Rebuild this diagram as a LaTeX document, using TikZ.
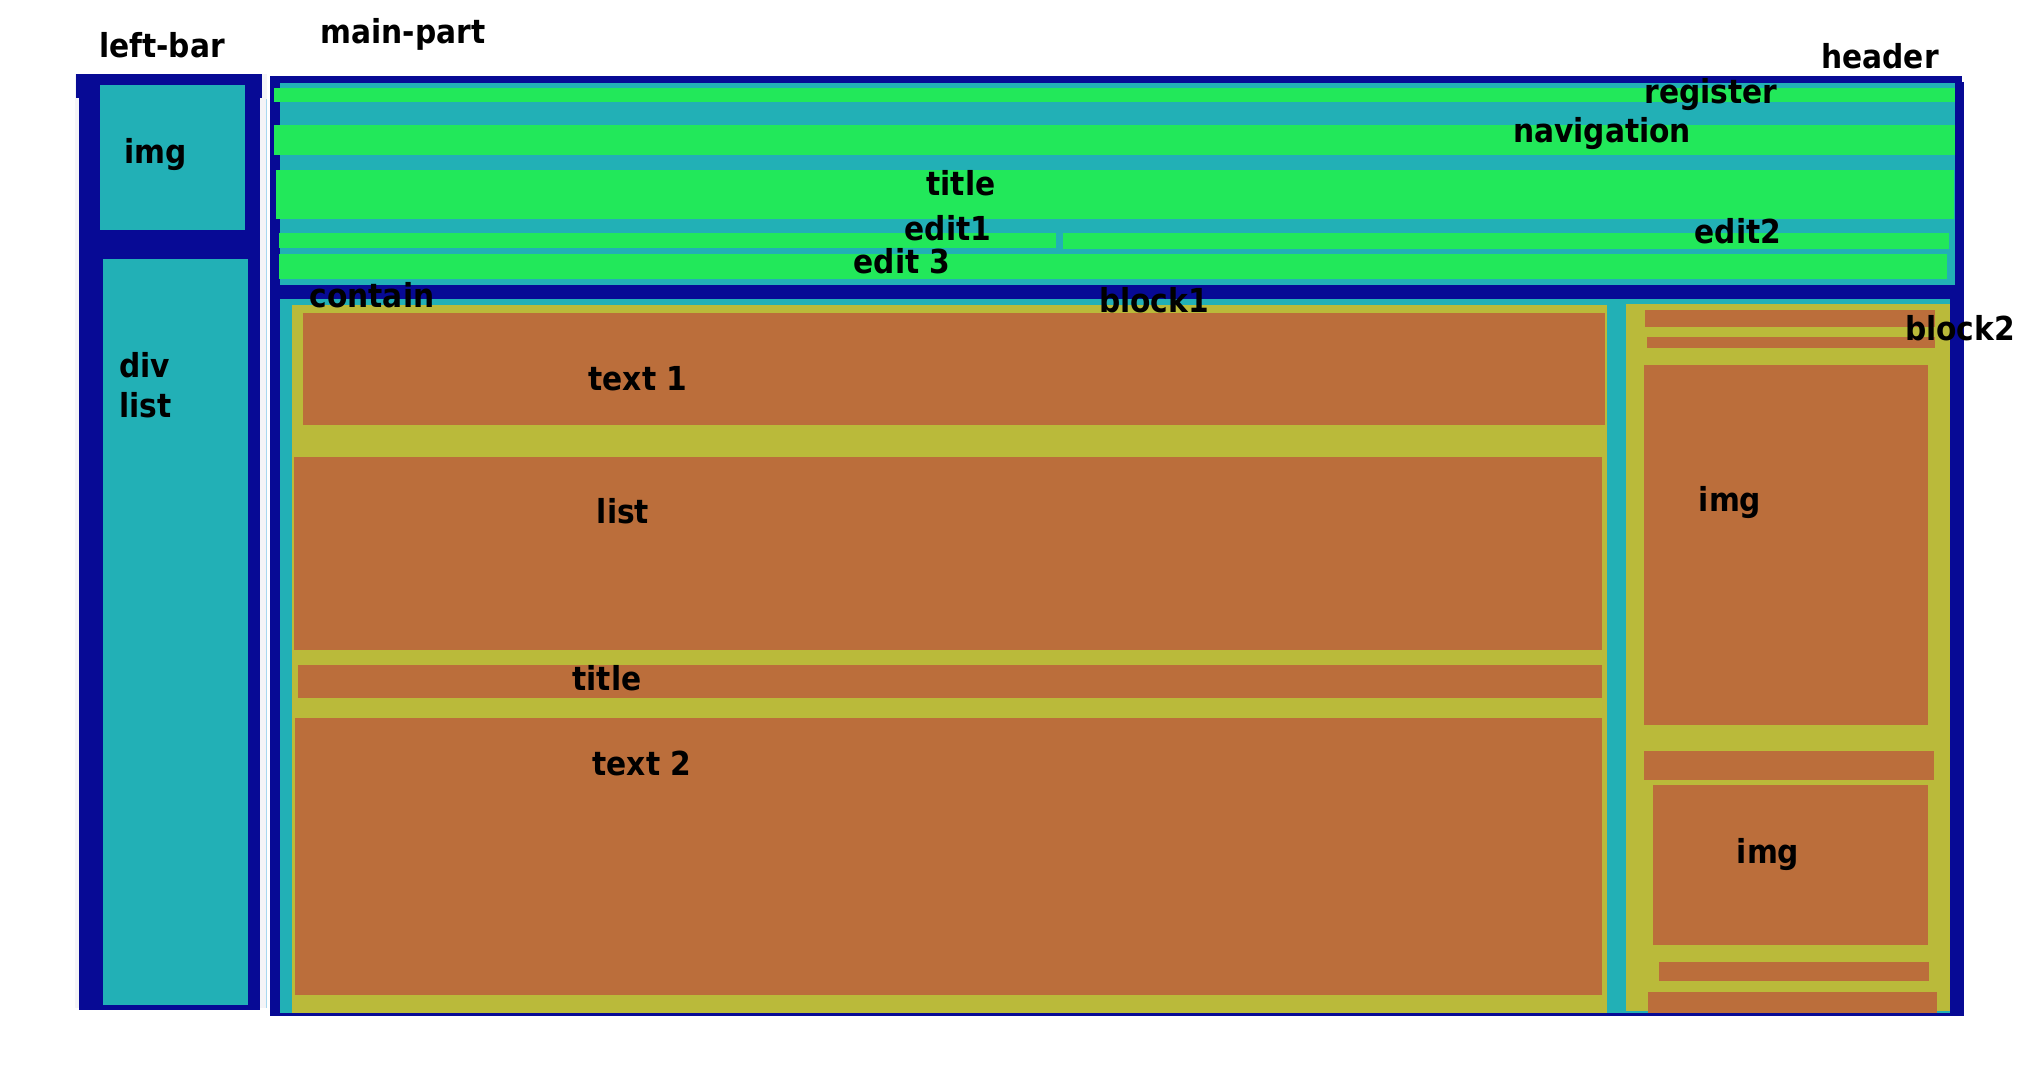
\documentclass[tikz,border=0pt]{standalone}
\usepackage{fontspec}
\setmainfont{DejaVu Sans Condensed}
\definecolor{dblue}{HTML}{070A95}
\definecolor{tealc}{HTML}{22B0B6}
\definecolor{lgreen}{HTML}{22E85A}
\definecolor{olivec}{HTML}{BABA3A}
\definecolor{rust}{HTML}{BB6E3B}
\definecolor{faint}{HTML}{F4F4F7}
\definecolor{lblue}{HTML}{A8D8F0}
\tikzset{
  lbl/.style={inner sep=0pt, anchor=base, font=\fontsize{33}{40}\selectfont\bfseries, text=black},
  lbll/.style={lbl, anchor=base west},
}
\begin{document}
\begin{tikzpicture}[x=1pt,y=-1pt]
\useasboundingbox (0,0) rectangle (2037,1084);
% left bar
\fill[faint] (75,74) rectangle (267,1008);
\draw[lblue, line width=1pt] (266,99) -- (266,1008);
\fill[dblue] (76,74) rectangle (262,98);
\fill[dblue] (79,74) rectangle (260,1010);
\fill[tealc] (100,85) rectangle (245,230);
\fill[tealc] (103,259) rectangle (248,1005);
% main part
\fill[dblue] (270,76) rectangle (1962,82);
\fill[dblue] (270,82) rectangle (1964,1016);
% header
\fill[tealc] (280,83) rectangle (1955,285);
\fill[lgreen] (274,88) rectangle (1955,102);
\fill[lgreen] (274,125) rectangle (1955,155);
\fill[lgreen] (276,170) rectangle (1954,219);
\fill[lgreen] (279,233) rectangle (1056,248);
\fill[lgreen] (1063,233) rectangle (1949,249);
\fill[lgreen] (279,254) rectangle (1947,279);
% contain
\fill[tealc] (280,299) rectangle (1950,1013);
% block1
\fill[olivec] (292,305) rectangle (1607,1013);
\fill[rust] (303,313) rectangle (1605,425);
\fill[rust] (294,457) rectangle (1602,650);
\fill[rust] (298,665) rectangle (1602,698);
\fill[rust] (295,718) rectangle (1602,995);
% block2
\fill[olivec] (1626,304) rectangle (1950,1011);
\fill[rust] (1645,310) rectangle (1935,327);
\fill[rust] (1647,337) rectangle (1935,348);
\fill[rust] (1644,365) rectangle (1928,725);
\fill[rust] (1644,751) rectangle (1934,780);
\fill[rust] (1653,785) rectangle (1928,945);
\fill[rust] (1659,962) rectangle (1929,981);
\fill[rust] (1648,992) rectangle (1937,1013);
% labels
\node[lbl] (lLeftbar) at (162,57) {left-bar};
\node[lbl] (lMainpart) at (403,43) {main-part};
\node[lbl] (lHeader) at (1880,68) {header};
\node[lbl] (lImgL) at (156,163) {img};
\node[lbll] (lDiv) at (119,377) {div};
\node[lbll] (lList) at (119,417) {list};
\node[lbl] (lRegister) at (1711,103) {register};
\node[lbl] (lNav) at (1602,142) {navigation};
\node[lbl] (lTitleH) at (961,195) {title};
\node[lbl] (lEdit1) at (948,240) {edit1};
\node[lbl] (lEdit2) at (1738,243) {edit2};
\node[lbl] (lEdit3) at (902,273) {edit 3};
\node[lbl] (lContain) at (372,307) {contain};
\node[lbl] (lBlock1) at (1154,312) {block1};
\node[lbl] (lBlock2) at (1960,340) {block2};
\node[lbl] (lText1) at (638,390) {text 1};
\node[lbl] (lListB) at (623,523) {list};
\node[lbl] (lTitleB) at (607,690) {title};
\node[lbl] (lText2) at (642,775) {text 2};
\node[lbl] (lImgB1) at (1730,511) {img};
\node[lbl] (lImgB2) at (1768,863) {img};
\end{tikzpicture}
\end{document}
